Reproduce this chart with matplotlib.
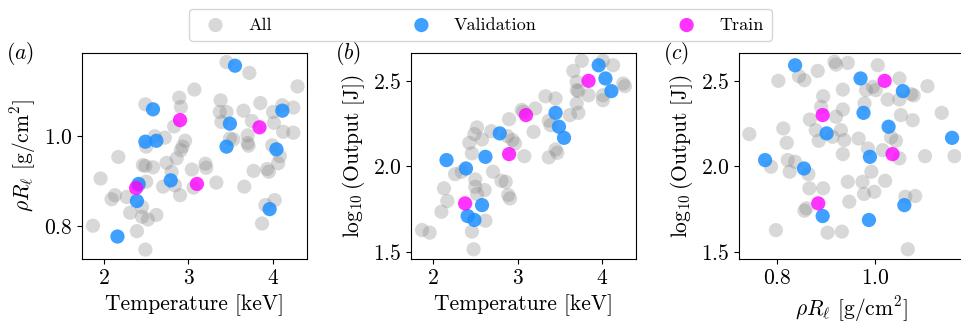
#%%
import numpy as np
import matplotlib.pyplot as plt

plt.rcParams['font.family'] = 'serif'
plt.rcParams['font.serif'] = ['cmr10']
plt.rcParams['mathtext.fontset'] = 'cm'
plt.rcParams['axes.formatter.use_mathtext'] = True
plt.rcParams['font.size'] = 15.5

#%%
# validation / train shots: temperature [keV], rhoR [g/cm2], log10 output [J]
val_T = [2.16, 2.39, 2.41, 2.49, 2.58, 2.62, 2.79, 3.45, 3.49, 3.55, 3.96, 4.04, 4.11]
val_rho = [0.776, 0.855, 0.893, 0.987, 1.059, 0.989, 0.901, 0.976, 1.027, 1.156, 0.837, 0.970, 1.056]
val_logy = [2.037, 1.988, 1.710, 1.687, 1.774, 2.056, 2.193, 2.313, 2.232, 2.167, 2.591, 2.514, 2.440]

train_T = [2.38, 2.90, 3.10, 3.84]
train_rho = [0.884, 1.035, 0.893, 1.019]
train_logy = [1.784, 2.072, 2.300, 2.500]

# all shots
all_a_T = [3.07, 2.89, 2.49, 2.91, 2.83, 2.60, 2.72, 2.96, 2.93, 2.91, 2.86, 2.74, 2.17,
           2.46, 2.49, 2.58, 2.80, 3.04, 1.96, 2.50, 2.70, 2.84, 2.90, 2.13, 2.09, 2.27,
           2.45, 2.31, 2.45, 2.52, 2.62, 1.87, 2.39, 2.49, 2.41, 2.50, 3.06,
           3.45, 3.72, 4.29, 3.38, 3.85, 3.37, 3.45, 3.65, 3.75, 3.39, 4.00, 4.11, 4.24,
           4.01, 4.12, 4.24, 3.70, 3.53, 3.70, 3.71, 3.49, 3.99, 4.08, 4.06, 3.20, 3.21,
           3.77, 3.93, 3.95, 3.33, 3.66, 4.02, 3.91, 3.87]
all_a_rho = [1.103, 1.085, 1.070, 1.064, 1.021, 0.999, 0.996, 0.989, 0.976, 0.968, 0.950, 0.940, 0.953,
             0.935, 0.933, 0.930, 0.920, 0.925, 0.905, 0.898, 0.887, 0.890, 0.868, 0.868, 0.859, 0.864,
             0.842, 0.829, 0.820, 0.814, 0.824, 0.800, 0.788, 0.747, 0.890, 0.976, 0.885,
             1.164, 1.140, 1.110, 1.079, 1.073, 1.053, 1.053, 1.056, 1.033, 1.031, 1.053, 1.068, 1.063,
             1.029, 1.009, 1.007, 1.001, 0.992, 0.984, 0.978, 0.994, 0.979, 0.955, 0.939, 0.938, 0.929,
             0.922, 0.926, 0.920, 0.896, 0.887, 0.857, 0.846, 0.805]

all_b_T = [3.07, 3.05, 2.90, 2.52, 2.49, 2.69, 2.58, 2.43, 2.88, 2.94, 2.97, 3.08, 2.46, 2.26,
           2.34, 2.71, 2.50, 2.81, 2.86, 2.13, 2.50, 2.61, 2.52, 2.89, 2.91, 2.17, 2.10, 2.62,
           1.87, 1.96, 2.46, 2.48,
           3.76, 4.01, 4.13, 3.66, 3.70, 3.70, 3.72, 3.84, 4.01, 4.25, 4.27, 4.01, 3.33, 3.45,
           3.70, 3.62, 3.72, 3.21, 3.19, 3.37, 3.39, 3.45, 3.47, 3.37]
all_b_logy = [2.319, 2.330, 2.276, 2.228, 2.189, 2.206, 2.158, 2.138, 2.177, 2.154, 2.134, 2.060, 2.076, 1.955,
              1.969, 1.969, 1.924, 1.916, 1.910, 1.872, 1.881, 1.862, 1.839, 1.833, 1.813, 1.798, 1.735, 1.683,
              1.628, 1.613, 1.619, 1.516,
              2.617, 2.617, 2.591, 2.558, 2.494, 2.446, 2.440, 2.416, 2.416, 2.484, 2.469, 2.387, 2.410, 2.397,
              2.368, 2.300, 2.313, 2.339, 2.202, 2.267, 2.241, 2.099, 2.080, 2.053]

all_c_rho = [0.917, 0.920, 0.944, 0.845, 0.856, 0.803, 0.883, 0.934, 0.894, 0.934, 0.920, 0.890,
             0.867, 0.813, 0.744, 0.879, 0.885, 0.913, 0.930, 0.937, 0.820, 0.934, 0.822, 0.837,
             0.788, 0.826, 0.864, 0.866, 0.894, 0.944, 0.947, 0.856, 0.860, 0.798, 0.903, 0.932,
             1.005, 1.049, 0.995, 0.981, 1.001, 1.073, 1.078, 1.106, 1.025, 1.049, 0.978, 1.052,
             1.076, 1.135, 0.966, 1.032, 1.042, 0.985, 1.015, 1.049, 1.101, 1.161, 0.992, 0.974,
             1.020, 0.977, 0.998, 1.061, 1.081, 1.066]
all_c_logy = [2.611, 2.595, 2.605, 2.527, 2.504, 2.500, 2.558, 2.449, 2.410, 2.333, 2.290, 2.348,
              2.274, 2.222, 2.189, 2.212, 2.150, 2.173, 2.212, 2.154, 2.138, 2.072, 2.037, 2.027,
              1.998, 1.969, 1.955, 1.872, 1.872, 1.910, 1.794, 1.741, 1.755, 1.628, 1.613, 1.619,
              2.591, 2.514, 2.465, 2.446, 2.446, 2.422, 2.415, 2.469, 2.391, 2.391, 2.368, 2.300,
              2.270, 2.313, 2.163, 2.169, 2.150, 2.105, 2.095, 2.047, 2.060, 2.060, 1.969, 1.910,
              1.916, 1.839, 1.852, 1.823, 1.827, 1.516]

#%%
temp_label = 'Temperature [keV]'
rho_label = r'$\rho R_\ell$ [g/cm$^2$]'
out_label = r'$\log_{10}$(Output [J])'

s = 105
fig = plt.figure(figsize=(9.61, 3.31), dpi=100)
axes = [
  fig.add_axes([0.0853, 0.2175, 0.234, 0.622]),
  fig.add_axes([0.4277, 0.2175, 0.234, 0.622]),
  fig.add_axes([0.769, 0.2175, 0.234, 0.622]),
]
panels = [
  (all_a_T, all_a_rho, val_T, val_rho, train_T, train_rho, temp_label, rho_label, 'a'),
  (all_b_T, all_b_logy, val_T, val_logy, train_T, train_logy, temp_label, out_label, 'b'),
  (all_c_rho, all_c_logy, val_rho, val_logy, train_rho, train_logy, rho_label, out_label, 'c'),
]
for ax, (gx, gy, vx, vy, tx, ty, xl, yl, tag) in zip(axes, panels):
  ax.scatter(gx, gy, s=s, c='gray', alpha=0.3, edgecolors='none', label='All')
  ax.scatter(vx, vy, s=s, c='dodgerblue', alpha=0.85, edgecolors='none', label='Validation')
  ax.scatter(tx, ty, s=s, c='magenta', alpha=0.8, edgecolors='none', label='Train')
  ax.set_xlabel(xl)
  ax.set_ylabel(yl)
  ax.text(-0.34, 1.0, r'$(%s)$' % tag, transform=ax.transAxes, ha='left', va='center')

axes[0].set_xlim(1.74, 4.40)
axes[0].set_ylim(0.726, 1.184)
axes[0].set_xticks([2, 3, 4])
axes[0].set_yticks([0.8, 1.0])
axes[1].set_xlim(1.74, 4.40)
axes[1].set_ylim(1.459, 2.662)
axes[1].set_xticks([2, 3, 4])
axes[1].set_yticks([1.5, 2.0, 2.5])
axes[2].set_xlim(0.723, 1.18)
axes[2].set_ylim(1.459, 2.662)
axes[2].set_xticks([0.8, 1.0])
axes[2].set_yticks([1.5, 2.0, 2.5])

handles, labels = axes[0].get_legend_handles_labels()
fig.legend(handles, labels, loc='upper center', bbox_to_anchor=(0.5, 1.0), ncol=3,
           fontsize=13, columnspacing=7.3, borderpad=0.45)

plt.savefig('out.png', dpi=100)
